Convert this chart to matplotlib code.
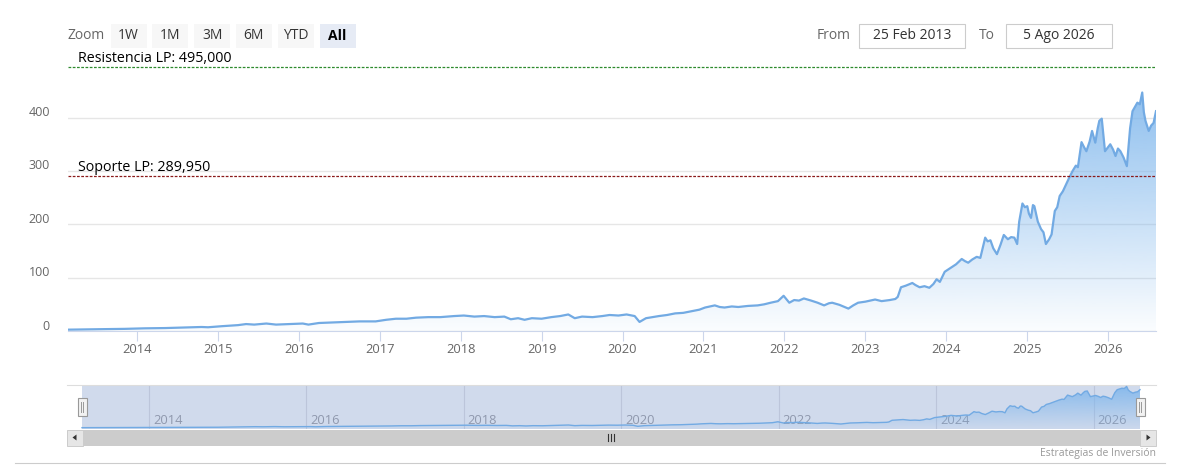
import numpy as np
import matplotlib
matplotlib.use("Agg")
import matplotlib.pyplot as plt
from matplotlib.patches import Rectangle, Polygon
from matplotlib.transforms import ScaledTranslation, blended_transform_factory
from matplotlib.colors import to_rgb

plt.rcParams["font.family"] = ["Open Sans", "DejaVu Sans"]

# price history, x in decimal years
dates = [
    2013.15, 2013.35, 2013.6, 2013.85, 2014.1, 2014.35, 2014.6, 2014.8, 2014.88,
    2015.05, 2015.25, 2015.35, 2015.45, 2015.6, 2015.72, 2015.88, 2016.05, 2016.12,
    2016.25, 2016.42, 2016.6, 2016.75, 2016.95, 2017.08, 2017.2, 2017.33, 2017.45,
    2017.6, 2017.75, 2017.92, 2018.04, 2018.17, 2018.29, 2018.42, 2018.54, 2018.62,
    2018.71, 2018.79, 2018.88, 2019.0, 2019.12, 2019.23, 2019.33, 2019.41, 2019.5,
    2019.63, 2019.75, 2019.84, 2019.95, 2020.05, 2020.15, 2020.21, 2020.29, 2020.45,
    2020.55, 2020.65, 2020.75, 2020.85, 2020.95, 2021.02, 2021.14, 2021.2, 2021.26,
    2021.35, 2021.43, 2021.55, 2021.67, 2021.75, 2021.83, 2021.92, 2021.99, 2022.06,
    2022.12, 2022.18, 2022.24, 2022.33, 2022.41, 2022.49, 2022.55, 2022.59, 2022.68,
    2022.79, 2022.85, 2022.91, 2023.0, 2023.12, 2023.2, 2023.3, 2023.37, 2023.4,
    2023.44, 2023.5, 2023.58, 2023.62, 2023.67, 2023.73, 2023.79, 2023.84, 2023.88,
    2023.92, 2023.98, 2024.06, 2024.12, 2024.19, 2024.23, 2024.27, 2024.32, 2024.375,
    2024.42, 2024.48, 2024.51, 2024.545, 2024.58, 2024.625, 2024.67, 2024.71, 2024.76,
    2024.8, 2024.84, 2024.875, 2024.9, 2024.94, 2024.97, 2025.0, 2025.02, 2025.046,
    2025.07, 2025.0875, 2025.13, 2025.17, 2025.2, 2025.23, 2025.27, 2025.3, 2025.34,
    2025.37, 2025.4, 2025.44, 2025.48, 2025.52, 2025.56, 2025.6, 2025.625, 2025.67,
    2025.7, 2025.73, 2025.77, 2025.8, 2025.84, 2025.87, 2025.89, 2025.92, 2025.96,
    2026.0, 2026.025, 2026.06, 2026.09, 2026.12, 2026.15, 2026.19, 2026.23, 2026.27,
    2026.3, 2026.33, 2026.36, 2026.39, 2026.42, 2026.44, 2026.46, 2026.5, 2026.53,
    2026.56, 2026.59,
]
prices = [
    2.5, 3, 3.5, 4, 5, 5.5, 6.5, 7.5, 7,
    9, 11, 13, 12, 14, 12, 13, 14, 12,
    15, 16, 17, 18, 18, 21, 23, 23, 25,
    26, 26, 28, 29, 27, 28, 26, 27, 22,
    24, 21, 24, 23, 26, 28, 31, 24, 27,
    26, 28, 30, 29, 31, 28, 17, 24, 28,
    30, 33, 34, 37, 40, 44, 48, 45, 44,
    46, 45, 47, 48, 50, 53, 56, 66, 53,
    58, 57, 61, 57, 53, 48, 52, 53, 49,
    42, 48, 53, 55, 59, 56, 58, 60, 64,
    82, 85, 90, 86, 82, 84, 81, 88, 97,
    92, 111, 119, 125, 135, 131, 128, 134, 139,
    137, 175, 168, 170, 155, 144, 162, 180, 172,
    176, 175, 163, 205, 239, 232, 234, 220, 212,
    236, 234, 205, 191, 185, 163, 172, 181, 225,
    232, 253, 262, 275, 288, 300, 310, 307, 354,
    345, 337, 355, 375, 353, 380, 394, 398, 337,
    345, 350, 340, 328, 342, 337, 325, 309, 380,
    412, 420, 428, 425, 447, 410, 394, 375, 385,
    390, 412,
]

year_ticks = list(range(2014, 2027))
nav_ticks = list(range(2014, 2027, 2))
y_ticks = [0, 100, 200, 300, 400]

resistance = 495.0
support = 289.95
resistance_label = "Resistencia LP: 495,000"
support_label = "Soporte LP: 289,950"
zoom_buttons = ["1W", "1M", "3M", "6M", "YTD", "All"]
from_date = "25 Feb 2013"
to_date = "5 Ago 2026"
credit = "Estrategias de Inversión"

W, H = 1181, 472
SERIES = "#7cb5ec"
LINE = "#72aae3"


def fx(x):
    return x / W


def fy(y):
    return 1 - y / H


def gradient_fill(ax, x, y, y0, y1, a_top, a_bot, zorder=1):
    fill = ax.fill_between(x, y, y0, color="none", lw=0)
    grad = np.zeros((256, 1, 4))
    grad[..., :3] = to_rgb(SERIES)
    grad[:, 0, 3] = np.linspace(a_top, a_bot, 256)
    im = ax.imshow(grad, extent=[x[0], x[-1], y0, y1], aspect="auto",
                   origin="upper", zorder=zorder, interpolation="bilinear")
    im.set_clip_path(fill.get_paths()[0], transform=ax.transData)


fig = plt.figure(figsize=(W / 100, H / 100), dpi=100)

# main plot
y_zero, px_per_unit = 331, 0.5335
y_max = 500
ax = fig.add_axes([fx(68), fy(y_zero), fx(1156) - fx(68),
                   fy(y_zero - y_max * px_per_unit) - fy(y_zero)])
gradient_fill(ax, dates, prices, 0, y_max, 0.95, 0.03)
ax.plot(dates, prices, color=LINE, lw=1.6, zorder=3, solid_joinstyle="round")
ax.set_xlim(dates[0], dates[-1])
ax.set_ylim(0, y_max)
ax.set_yticks(y_ticks)
ax.set_xticks(year_ticks)
ax.set_xticklabels([str(t) for t in year_ticks])
ax.grid(axis="y", color="#e6e6e6", lw=1)
ax.set_axisbelow(True)
for s in ["top", "right", "left"]:
    ax.spines[s].set_visible(False)
ax.spines["bottom"].set_color("#ccd6eb")
ax.spines["bottom"].set_zorder(4)
ax.tick_params(axis="x", length=7.5, color="#ccd6eb", pad=1.2,
               labelsize=9.3, labelcolor="#666666")
ax.tick_params(axis="y", length=0, pad=13, labelsize=9, labelcolor="#666666")
shift = ScaledTranslation(0, 6.5 / 100, fig.dpi_scale_trans)
for lab in ax.get_yticklabels():
    lab.set_transform(lab.get_transform() + shift)

ax.axhline(resistance, color="#2e8b2e", lw=0.9, ls=(0, (2.2, 1.2)), zorder=5,
           clip_on=False)
ax.axhline(support, color="#8b1a1a", lw=0.9, ls=(0, (2.2, 1.2)), zorder=5)
xt = blended_transform_factory(ax.transAxes, ax.transData)
ax.text(0.009, resistance + 2.5, resistance_label, transform=xt, fontsize=10.3,
        color="black", va="bottom", ha="left", zorder=6, clip_on=False)
ax.text(0.009, support + 2.5, support_label, transform=xt, fontsize=10.3,
        color="black", va="bottom", ha="left", zorder=6)

# navigator
nav_l, nav_r, sel_l, sel_r = 67, 1156, 82, 1140
ppu = (sel_r - sel_l) / (dates[-1] - dates[0])
nav = fig.add_axes([fx(nav_l), fy(429), fx(nav_r) - fx(nav_l), fy(384.5) - fy(429)])
nav.set_xlim(dates[0] - (sel_l - nav_l) / ppu, dates[-1] + (nav_r - sel_r) / ppu)
nav.set_ylim(-12, 468)
nav.add_patch(Rectangle((dates[0], -12), dates[-1] - dates[0], 480,
                        facecolor=(102 / 255, 133 / 255, 194 / 255, 0.3),
                        lw=0, zorder=0))
for t in nav_ticks:
    nav.axvline(t, color="#bcc5da", lw=0.8, zorder=1)
    nav.text(t + 4 / ppu, 0.19, str(t), transform=blended_transform_factory(
        nav.transData, nav.transAxes), fontsize=9.3, color="#8f98ad",
        va="center", ha="left", zorder=2)
gradient_fill(nav, dates, prices, -12, 468, 0.9, 0.05, zorder=3)
nav.plot(dates, prices, color=LINE, lw=1, zorder=4)
nav.set_xticks([])
nav.set_yticks([])
for s in ["left", "right", "bottom"]:
    nav.spines[s].set_visible(False)
nav.spines["top"].set_color("#dddddd")
nav.patch.set_alpha(0)

# overlay for toolbar, handles, scrollbar (pixel coordinates)
ov = fig.add_axes([0, 0, 1, 1])
ov.set_xlim(0, W)
ov.set_ylim(H, 0)
ov.axis("off")

ov.text(67, 35.5, "Zoom", fontsize=10, color="#666666", va="center", ha="left")
for i, lab in enumerate(zoom_buttons):
    bx = 110.5 + i * 41.8
    active = lab == "All"
    ov.add_patch(Rectangle((bx, 23.5), 36, 24, lw=0,
                           facecolor="#e6ebf5" if active else "#f7f7f7"))
    ov.text(bx + 18, 35.5, lab, fontsize=10, ha="center", va="center",
            color="black" if active else "#333333",
            fontweight="bold" if active else "normal")

ov.text(834, 35.5, "From", fontsize=10, color="#666666", ha="center", va="center")
ov.add_patch(Rectangle((859, 23.5), 106, 24, facecolor="white",
                       edgecolor="#cccccc", lw=0.8))
ov.text(912, 35.5, from_date, fontsize=10, color="#333333", ha="center", va="center")
ov.text(987, 35.5, "To", fontsize=10, color="#666666", ha="center", va="center")
ov.add_patch(Rectangle((1005.5, 23.5), 106, 24, facecolor="white",
                       edgecolor="#cccccc", lw=0.8))
ov.text(1058.5, 35.5, to_date, fontsize=10, color="#333333", ha="center", va="center")

# navigator handles
for hx in (sel_l, sel_r):
    ov.add_patch(Rectangle((hx - 4.5, 398), 9, 17.5, facecolor="#f2f2f2",
                           edgecolor="#999999", lw=0.8, zorder=5))
    for dx in (-1.2, 1.2):
        ov.plot([hx + dx, hx + dx], [402, 411.5], color="#999999", lw=0.7, zorder=6)

# scrollbar
ov.add_patch(Rectangle((nav_l, 430), nav_r - nav_l, 15.5, facecolor="#f2f2f2", lw=0))
ov.add_patch(Rectangle((sel_l, 430), sel_r - sel_l, 15.5, facecolor="#cccccc", lw=0))
for bx in (nav_l, sel_r):
    ov.add_patch(Rectangle((bx, 430), nav_r - sel_r, 15.5, facecolor="#e6e6e6",
                           edgecolor="#cccccc", lw=0.7))
ov.add_patch(Polygon([[76.5, 434.5], [76.5, 440.5], [72.5, 437.5]],
                     closed=True, facecolor="#333333", lw=0))
ov.add_patch(Polygon([[1146.5, 434.5], [1146.5, 440.5], [1150.5, 437.5]],
                     closed=True, facecolor="#333333", lw=0))
mid = (sel_l + sel_r) / 2
for dx in (-3, 0, 3):
    ov.plot([mid + dx, mid + dx], [434, 441], color="#333333", lw=0.8)

ov.text(1156, 453.5, credit, fontsize=7.5, color="#999999", ha="right", va="center")
ov.plot([15, 1165], [462.5, 462.5], color="#cccccc", lw=0.8)

fig.savefig("out.png", dpi=100)
